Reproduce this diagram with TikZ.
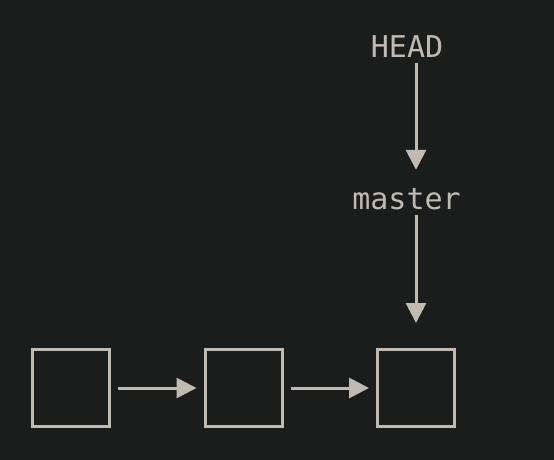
\documentclass[tikz,border=0pt]{standalone}
\usepackage{fontspec}
\setmonofont{DejaVu Sans Mono}
\usetikzlibrary{arrows.meta}
\definecolor{bg}{HTML}{1B1D1D}
\definecolor{fg}{HTML}{C0BAB3}
\begin{document}
\begin{tikzpicture}[x=1pt,y=-1pt,
  commit/.style={draw=fg,line width=3pt,minimum size=77pt,inner sep=0pt},
  ref/.style={text=fg,font=\ttfamily\fontsize{30}{30}\selectfont,inner sep=0pt,text height=24pt,text depth=0pt,anchor=base},
  link/.style={draw=fg,line width=3pt,-{Triangle[length=20pt,width=20pt]}}]
\fill[bg] (0,0) rectangle (554,460);
\useasboundingbox (0,0) rectangle (554,460);
\node[commit] (c1) at (71,388) {};
\node[commit] (c2) at (243.5,388) {};
\node[commit] (c3) at (416,388) {};
\node[ref] (head) at (407,58) {HEAD};
\node[ref] (master) at (406.5,209) {master};
\draw[link,shorten <=7pt,shorten >=7pt] (c1.east) -- (c2.west);
\draw[link,shorten <=7pt,shorten >=7pt] (c2.east) -- (c3.west);
\draw[link,shorten <=5pt,shorten >=15pt] (head.south -| c3) -- (master.north -| c3);
\draw[link,shorten <=6pt,shorten >=25pt] (master.south -| c3) -- (c3.north);
\end{tikzpicture}
\end{document}
